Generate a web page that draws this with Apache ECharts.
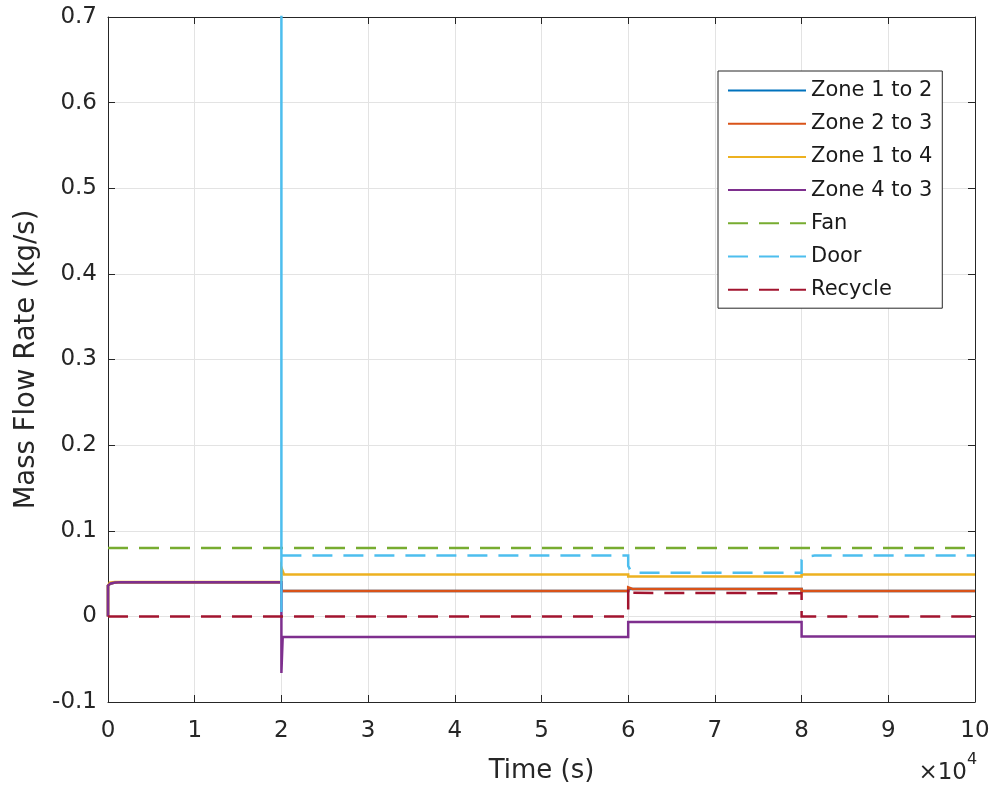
<!DOCTYPE html>
<html>
<head>
<meta charset="utf-8">
<script src="https://cdn.jsdelivr.net/npm/echarts@6/dist/echarts.min.js"></script>
<style>html,body{margin:0;padding:0;background:#fff;}#c{width:995px;height:793px;}</style>
</head>
<body>
<div id="c"></div>
<script>
// ---- data (time in seconds, mass flow rate in kg/s) ----
const seriesNames = ['Zone 1 to 2', 'Zone 2 to 3', 'Zone 1 to 4', 'Zone 4 to 3', 'Fan', 'Door', 'Recycle'];
const xTickLabels = ['0','1','2','3','4','5','6','7','8','9','10'];
const yTickLabels = ['-0.1','0','0.1','0.2','0.3','0.4','0.5','0.6','0.7'];

const zone12Time = [0, 0, 300, 800, 1500, 20000, 20000, 60000, 60000, 80000, 80000, 100000];
const zone12Flow = [0, 0.036, 0.0385, 0.0395, 0.04, 0.04, 0.0295, 0.0295, 0.032, 0.032, 0.0295, 0.0295];

const zone23Time = [0, 0, 300, 800, 1500, 20000, 20000, 60000, 60000, 60500, 80000, 80000, 100000];
const zone23Flow = [0, 0.036, 0.0385, 0.0395, 0.04, 0.04, 0.0295, 0.0295, 0.034, 0.032, 0.032, 0.0295, 0.0295];

const zone14Time = [0, 0, 200, 800, 20000, 20000, 20300, 60000, 60000, 80000, 80000, 100000];
const zone14Flow = [0, 0.036, 0.0395, 0.0402, 0.0402, 0.057, 0.049, 0.049, 0.0466, 0.0466, 0.049, 0.049];

const zone43Time = [0, 0, 300, 800, 1500, 20000, 20000, 20000, 20150, 60000, 60000, 80000, 80000, 100000];
const zone43Flow = [0, 0.036, 0.0385, 0.0395, 0.04, 0.04, 0.02, -0.066, -0.024, -0.024, -0.0066, -0.0066, -0.0235, -0.0235];

const fanTime = [0, 100000];
const fanFlow = [0.08, 0.08];

const doorTime = [20000, 60000, 60000, 60300, 60700, 80000, 80000, 80600, 81500, 100000];
const doorFlow = [0.071, 0.071, 0.059, 0.053, 0.051, 0.051, 0.066, 0.070, 0.071, 0.071];

const doorSpikeTime = [20000, 20000];
const doorSpikeFlow = [0.005, 0.8];

const recycleTime = [0, 60000, 60000, 60300, 80000, 80000, 100000];
const recycleFlow = [0, 0, 0.034, 0.0275, 0.027, 0, 0];

const colors = ['#0072BD', '#D95319', '#EDB120', '#7E2F8E', '#77AC30', '#4DBEEE', '#A2142F'];

// ---- build ----
function zip(t, v) { return t.map((x, i) => [x, v[i]]); }
const FONT = 'DejaVu Sans';
const TXT = '#262626';
const DASH = [20, 11];

function lineSeries(name, t, v, color, dashed) {
  return {
    name: name,
    type: 'line',
    data: zip(t, v),
    symbol: 'none',
    showSymbol: false,
    clip: true,
    color: color,
    itemStyle: { color: color, opacity: 0 },
    lineStyle: { color: color, width: 2.5, type: dashed ? DASH : 'solid', cap: 'butt', join: 'miter' },
    emphasis: { disabled: true },
    silent: true
  };
}

const chart = echarts.init(document.getElementById('c'), null, { renderer: 'canvas' });

const axisCommon = {
  axisLine: { show: true, onZero: false, lineStyle: { color: TXT, width: 1 } },
  axisTick: { show: true, inside: true, length: 7, lineStyle: { color: TXT, width: 1 } }
};

const option = {
  animation: false,
  backgroundColor: '#ffffff',
  grid: { left: 108, right: 20, top: 17, bottom: 91, containLabel: false },
  xAxis: [
    Object.assign({
      type: 'value', position: 'bottom', min: 0, max: 100000, interval: 10000,
      splitLine: { show: true, lineStyle: { color: '#e3e3e3', width: 1 } },
      axisLabel: { show: true, margin: 18, fontFamily: FONT, fontSize: 23, color: TXT,
        formatter: function (v) { return xTickLabels[Math.round(v / 10000)]; } },
      name: 'Time (s)', nameLocation: 'middle', nameGap: 56,
      nameTextStyle: { fontFamily: FONT, fontSize: 26, color: TXT }
    }, axisCommon),
    Object.assign({
      type: 'value', position: 'top', min: 0, max: 100000, interval: 10000,
      splitLine: { show: false }, axisLabel: { show: false }
    }, axisCommon)
  ],
  yAxis: [
    Object.assign({
      type: 'value', position: 'left', min: -0.1, max: 0.7, interval: 0.1,
      splitLine: { show: true, lineStyle: { color: '#e3e3e3', width: 1 } },
      axisLabel: { show: true, margin: 11, fontFamily: FONT, fontSize: 23, color: TXT,
        formatter: function (v) { return yTickLabels[Math.round((v + 0.1) / 0.1)]; } },
      name: 'Mass Flow Rate (kg/s)', nameLocation: 'middle', nameGap: 65, nameRotate: 90,
      nameTextStyle: { fontFamily: FONT, fontSize: 27.5, color: TXT }
    }, axisCommon),
    Object.assign({
      type: 'value', position: 'right', min: -0.1, max: 0.7, interval: 0.1,
      splitLine: { show: false }, axisLabel: { show: false }
    }, axisCommon)
  ],
  legend: {
    data: seriesNames,
    orient: 'vertical',
    left: 718, top: 71,
    padding: [9, 10, 8, 9],
    itemWidth: 78, itemHeight: 20, itemGap: 12.2,
    backgroundColor: '#ffffff',
    borderColor: TXT, borderWidth: 1,
    selectedMode: false,
    itemStyle: { opacity: 0 },
    textStyle: { fontFamily: FONT, fontSize: 21, color: '#1a1a1a', lineHeight: 20 }
  },
  graphic: [
    { type: 'text', right: 28, top: 762, silent: true,
      style: { text: '\u00d710', font: '23px "DejaVu Sans"', fill: TXT } },
    { type: 'text', left: 967, top: 752, silent: true,
      style: { text: '4', font: '16px "DejaVu Sans"', fill: TXT } }
  ],
  series: [
    lineSeries(seriesNames[0], zone12Time, zone12Flow, colors[0], false),
    lineSeries(seriesNames[1], zone23Time, zone23Flow, colors[1], false),
    lineSeries(seriesNames[2], zone14Time, zone14Flow, colors[2], false),
    lineSeries(seriesNames[3], zone43Time, zone43Flow, colors[3], false),
    lineSeries(seriesNames[4], fanTime, fanFlow, colors[4], true),
    lineSeries(seriesNames[5], doorTime, doorFlow, colors[5], true),
    lineSeries('Door transient', doorSpikeTime, doorSpikeFlow, colors[5], false),
    lineSeries(seriesNames[6], recycleTime, recycleFlow, colors[6], true)
  ]
};
chart.setOption(option);
</script>
</body>
</html>
